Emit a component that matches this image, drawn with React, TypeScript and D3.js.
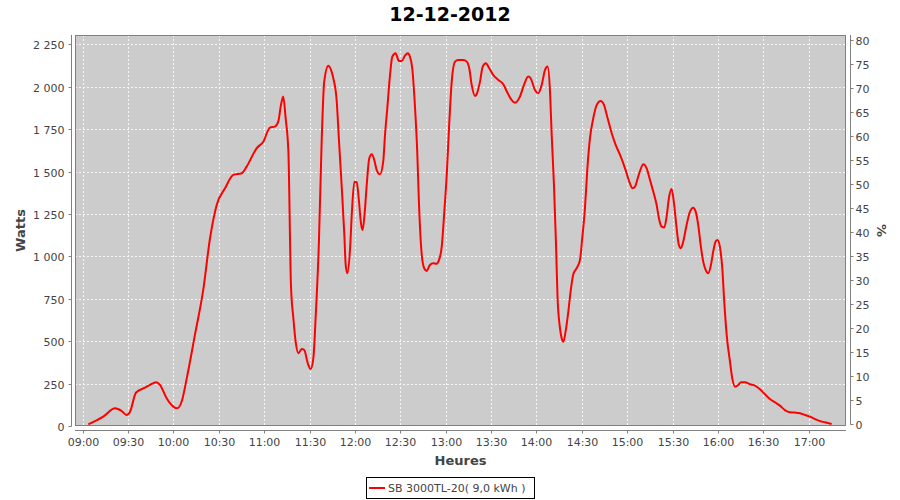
import React, { useEffect, useRef } from "react";
import * as d3 from "d3";

const TITLE = "12-12-2012";
const X_LABEL = "Heures";
const Y_LABEL = "Watts";
const Y2_LABEL = "%";
const SERIES_NAME = "SB 3000TL-20( 9,0 kWh )";

// minutes after 09:00
const minutesAfterNine = [
  3.7, 13.6, 21.4, 25.8, 29, 31.3, 35.2, 41.2, 44.5, 48.5, 51.1, 55.5, 59.9, 62.5, 65.4, 68.8,
  74.2, 79.7, 84.2, 88.6, 94.1, 99.6, 105.1, 108.4, 115, 119.4, 123.8, 127.1, 129.3, 131.1, 132.6,
  134.2, 136, 137.7, 139.3, 140.8, 142.6, 144.8, 146.5, 148.8, 150.7, 152.5, 154, 156.2, 158,
  159.7, 162.4, 164.6, 165.7, 167.9, 169.5, 171.2, 173, 173.9, 175, 176.8, 177.9, 179.6, 181.2,
  182.7, 184, 185.1, 186.6, 187.8, 189.5, 191.1, 192.8, 194.4, 196.6, 198.7, 199.9, 201.4, 203.2,
  204.7, 206.9, 209.1, 210.9, 213.1, 214.9, 216.4, 217.9, 219.7, 221.2, 222.3, 224.1, 225.8,
  227.4, 229.6, 231.8, 234.1, 235.6, 237.4, 239.1, 240.7, 242.2, 244, 246.2, 248.3, 251.6, 253.9,
  255.6, 257.2, 259.4, 260.5, 262.7, 264.5, 266.6, 268.8, 271.5, 274.8, 278.1, 280.3, 283.6,
  285.8, 289.1, 291.8, 294.6, 296.2, 299, 301.2, 303.5, 305.7, 307.4, 309, 310.1, 311.6, 312.9,
  314, 315.6, 316.7, 317.8, 319.3, 321.1, 322.6, 324.4, 326.6, 328.8, 330.3, 332.1, 333.7, 335.4,
  337.6, 339.9, 342.5, 344.7, 346.5, 349.8, 352.4, 355.3, 358.6, 361.4, 363.6, 365.2, 367.3,
  370.7, 372.9, 375.1, 377.3, 379.5, 381, 382.8, 384.5, 386.1, 387.6, 389.4, 391.1, 392.7, 394.2,
  395.5, 397.1, 399.3, 401.5, 403.7, 405.3, 407, 408.6, 410.3, 411.9, 413.6, 415.4, 416.9, 418.5,
  419.8, 421.3, 422.9, 424.2, 425.8, 428, 429.5, 431.3, 433.5, 435.3, 437.9, 441.2, 444.5, 447.8,
  451.1, 454.4, 457.7, 461, 464.3, 467.6, 470.9, 474.3, 477.6, 480.9, 484.2, 487.5, 490.8, 495.2,
];

const watts = [
  10, 55, 104, 88, 65, 84, 196, 226, 242, 258, 242, 163, 114, 104, 143, 281,
  537, 802, 1107, 1303, 1401, 1480, 1490, 1529, 1637, 1676, 1759, 1765, 1794, 1893, 1942,
  1814, 1617, 831, 635, 497, 429, 454, 448, 370, 336, 399, 635, 1087, 1676,
  2030, 2124, 2089, 2050, 1922, 1676, 1421, 1126, 949, 900, 1048, 1244, 1440, 1437,
  1322, 1195, 1156, 1274, 1421, 1578, 1602, 1568, 1509, 1484, 1558, 1716, 1873, 2069,
  2177, 2197, 2152, 2152, 2183, 2197, 2177, 2109, 1883, 1617, 1322, 1018, 930,
  914, 949, 959, 957, 979, 1057, 1264, 1480, 1755, 2030, 2148, 2158, 2158, 2148,
  2109, 2011, 1946, 1956, 2030, 2119, 2139, 2109, 2069, 2040, 2015, 1975, 1922,
  1906, 1942, 2011, 2060, 2050, 1981, 1962, 2011, 2099, 2119, 1971, 1716, 1421, 1087,
  753, 576, 517, 497, 556, 674, 792, 894, 930, 979, 1107, 1284, 1519, 1696,
  1814, 1893, 1916, 1893, 1834, 1726, 1657, 1598, 1519, 1440, 1401, 1411, 1470,
  1543, 1519, 1450, 1381, 1303, 1225, 1175, 1170, 1234, 1343, 1397, 1303, 1166, 1067,
  1048, 1087, 1185, 1263, 1287, 1264, 1185, 1067, 969, 920, 900, 949, 1028, 1087,
  1097, 1057, 930, 733, 537, 379, 281, 232, 242, 258, 258, 246, 238, 216,
  187, 159, 140, 120, 94, 81, 79, 75, 65, 55, 41, 29, 22, 12,
];

const xTickLabels = [
  "09:00", "09:30", "10:00", "10:30", "11:00", "11:30", "12:00", "12:30", "13:00",
  "13:30", "14:00", "14:30", "15:00", "15:30", "16:00", "16:30", "17:00",
];
const wattTickValues = [0, 250, 500, 750, 1000, 1250, 1500, 1750, 2000, 2250];
const wattTickLabels = ["0", "250", "500", "750", "1 000", "1 250", "1 500", "1 750", "2 000", "2 250"];
const percentTicks = [0, 5, 10, 15, 20, 25, 30, 35, 40, 45, 50, 55, 60, 65, 70, 75, 80];

const FONT = "'DejaVu Sans', Verdana, sans-serif";

export default function App() {
  const ref = useRef<SVGSVGElement>(null);

  useEffect(() => {
    const svg = d3.select(ref.current);
    svg.selectAll("*").remove();

    const W = 900, H = 500;
    const plot = { left: 75, right: 846, top: 35, bottom: 426 };

    const base = new Date(2012, 11, 12, 9, 0, 0);
    const at = (m: number) => new Date(base.getTime() + m * 60000);
    const parseHM = (s: string) => {
      const [h, m] = s.split(":").map(Number);
      return new Date(2012, 11, 12, h, m, 0);
    };

    const x = d3.scaleTime().domain([at(-5.09), at(504.7)]).range([plot.left, plot.right]);
    const y = d3.scaleLinear().domain([0, 2305]).range([plot.bottom, plot.top]);
    const y2 = d3.scaleLinear().domain([-0.4, 81.0]).range([plot.bottom, plot.top]);

    svg.append("rect").attr("width", W).attr("height", H).attr("fill", "#ffffff");

    // plot background
    svg.append("rect")
      .attr("x", plot.left).attr("y", plot.top)
      .attr("width", plot.right - plot.left).attr("height", plot.bottom - plot.top)
      .attr("fill", "#cccccc");

    // gridlines
    const grid = svg.append("g").attr("stroke", "#ffffff").attr("stroke-width", 1)
      .attr("stroke-dasharray", "2,2").attr("opacity", 0.85);
    xTickLabels.forEach((t) => {
      const px = Math.round(x(parseHM(t))) + 0.5;
      grid.append("line").attr("x1", px).attr("x2", px).attr("y1", plot.top).attr("y2", plot.bottom);
    });
    wattTickValues.forEach((v) => {
      const py = Math.round(y(v)) + 0.5;
      if (v === 0) return;
      grid.append("line").attr("x1", plot.left).attr("x2", plot.right).attr("y1", py).attr("y2", py);
    });

    // data line
    const pts = minutesAfterNine.map((m, i) => ({ t: at(m), v: watts[i] }));
    const line = d3.line<{ t: Date; v: number }>()
      .x((d) => x(d.t))
      .y((d) => y(d.v))
      .curve(d3.curveMonotoneX);
    svg.append("path").datum(pts).attr("d", line as any)
      .attr("fill", "none").attr("stroke", "#ff0000").attr("stroke-width", 2)
      .attr("stroke-linejoin", "round");

    // plot outline
    svg.append("rect")
      .attr("x", plot.left + 0.5).attr("y", plot.top + 0.5)
      .attr("width", plot.right - plot.left - 1).attr("height", plot.bottom - plot.top - 1)
      .attr("fill", "none").attr("stroke", "#808080").attr("stroke-width", 1);

    const axisColor = "#808080";
    const tickColor = "#444444";

    // left axis
    const lx = 71.5;
    const left = svg.append("g");
    left.append("line").attr("x1", lx).attr("x2", lx).attr("y1", plot.top).attr("y2", plot.bottom + 0.5)
      .attr("stroke", axisColor);
    wattTickValues.forEach((v, i) => {
      const py = Math.round(y(v)) + 0.5;
      left.append("line").attr("x1", lx - 3).attr("x2", lx).attr("y1", py).attr("y2", py).attr("stroke", axisColor);
      left.append("text").attr("x", lx - 7).attr("y", py + 4).attr("text-anchor", "end")
        .attr("font-family", FONT).attr("font-size", 11).attr("fill", tickColor).text(wattTickLabels[i]);
    });

    // right axis
    const rx = 850.5;
    const right = svg.append("g");
    right.append("line").attr("x1", rx).attr("x2", rx).attr("y1", plot.top).attr("y2", Math.round(y2(0)) + 0.5)
      .attr("stroke", axisColor);
    percentTicks.forEach((v) => {
      const py = Math.round(y2(v)) + 0.5;
      right.append("line").attr("x1", rx).attr("x2", rx + 3).attr("y1", py).attr("y2", py).attr("stroke", axisColor);
      right.append("text").attr("x", rx + 5).attr("y", py + 4).attr("text-anchor", "start")
        .attr("font-family", FONT).attr("font-size", 11).attr("fill", tickColor).text(String(v));
    });

    // bottom axis
    const by = 430.5;
    const bottom = svg.append("g");
    bottom.append("line").attr("x1", plot.left).attr("x2", plot.right).attr("y1", by).attr("y2", by)
      .attr("stroke", axisColor);
    xTickLabels.forEach((t) => {
      const px = Math.round(x(parseHM(t))) + 0.5;
      bottom.append("line").attr("x1", px).attr("x2", px).attr("y1", by).attr("y2", by + 3).attr("stroke", axisColor);
      bottom.append("text").attr("x", px).attr("y", by + 15.5).attr("text-anchor", "middle")
        .attr("font-family", FONT).attr("font-size", 11).attr("fill", tickColor).text(t);
    });

    // axis labels
    const labelColor = "#444444";
    svg.append("text").attr("x", (plot.left + plot.right) / 2).attr("y", 465)
      .attr("text-anchor", "middle").attr("font-family", FONT).attr("font-size", 13)
      .attr("font-weight", "bold").attr("fill", labelColor).text(X_LABEL);
    svg.append("text").attr("transform", `translate(25,${(plot.top + plot.bottom) / 2}) rotate(-90)`)
      .attr("text-anchor", "middle").attr("font-family", FONT).attr("font-size", 13)
      .attr("font-weight", "bold").attr("fill", labelColor).text(Y_LABEL);
    svg.append("text").attr("transform", `translate(877,${(plot.top + plot.bottom) / 2}) rotate(90)`)
      .attr("text-anchor", "middle").attr("font-family", FONT).attr("font-size", 13)
      .attr("font-weight", "bold").attr("fill", labelColor).text(Y2_LABEL);

    // title
    svg.append("text").attr("x", W / 2).attr("y", 21)
      .attr("text-anchor", "middle").attr("font-family", FONT).attr("font-size", 19)
      .attr("font-weight", "bold").attr("fill", "#000000").text(TITLE);

    // legend
    const lg = svg.append("g");
    lg.append("rect").attr("x", 366.5).attr("y", 477.5).attr("width", 168).attr("height", 21)
      .attr("fill", "#ffffff").attr("stroke", "#000000").attr("stroke-width", 1);
    lg.append("line").attr("x1", 369).attr("x2", 385).attr("y1", 488).attr("y2", 488)
      .attr("stroke", "#ff0000").attr("stroke-width", 2);
    lg.append("text").attr("x", 388).attr("y", 492)
      .attr("font-family", FONT).attr("font-size", 11).attr("fill", tickColor).text(SERIES_NAME);
  }, []);

  return (
    <div style={{ position: "absolute", left: 0, top: 0 }}>
      <svg ref={ref} width={900} height={500} />
    </div>
  );
}
